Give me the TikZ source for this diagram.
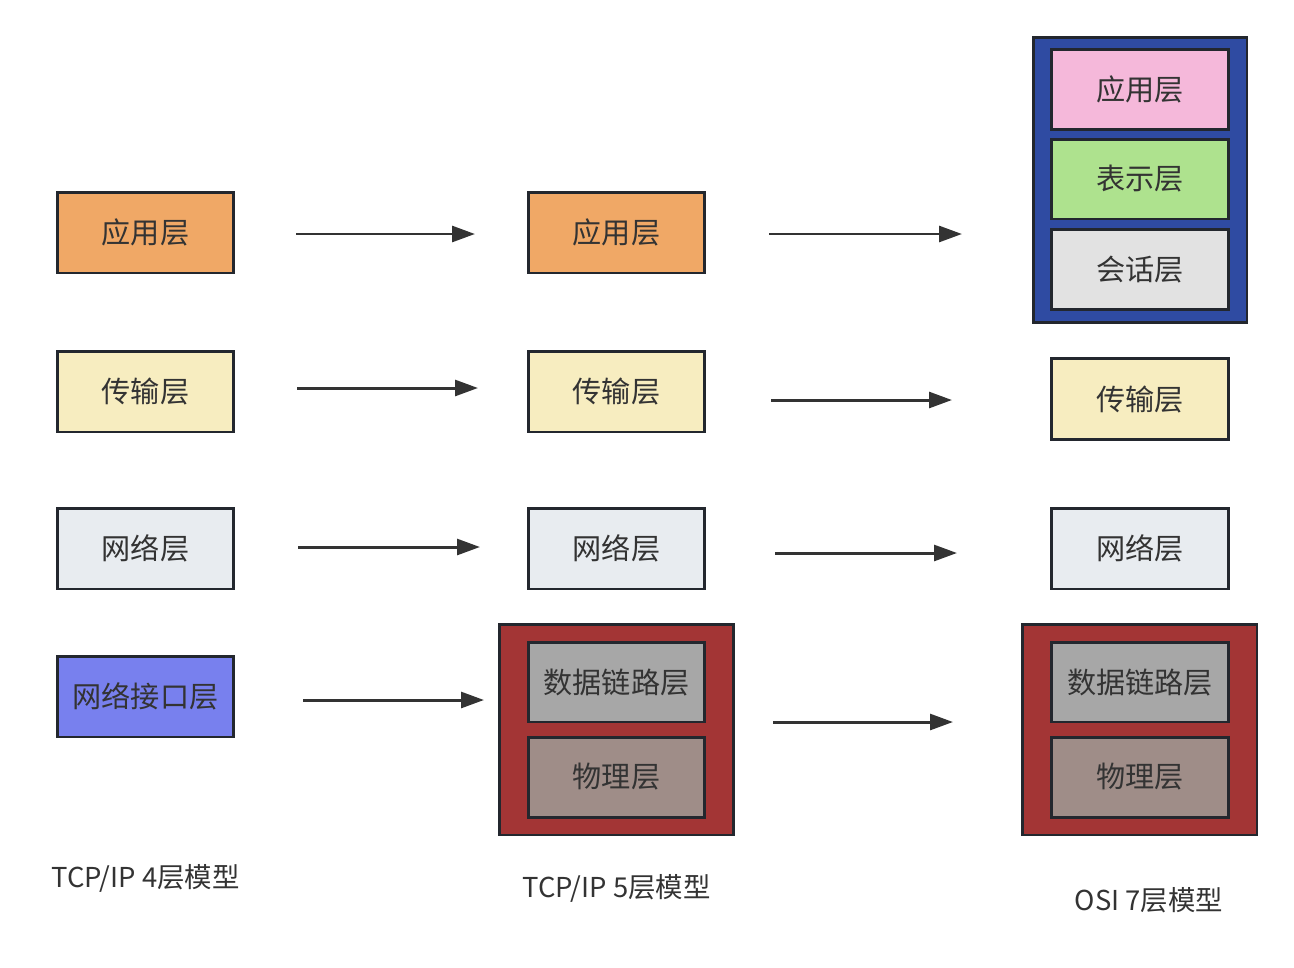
\documentclass[tikz,border=0pt]{standalone}
\usepackage{fontspec}
\setmainfont{Noto Sans CJK SC}
\usetikzlibrary{arrows.meta}

\definecolor{edgegray}{HTML}{23272E}
\definecolor{txtgray}{HTML}{333333}
\definecolor{appcol}{HTML}{F0A866}
\definecolor{transcol}{HTML}{F7EDC0}
\definecolor{netcol}{HTML}{E8ECF0}
\definecolor{ifcol}{HTML}{7880EE}
\definecolor{linkcol}{HTML}{A7A7A7}
\definecolor{physcol}{HTML}{9F8D88}
\definecolor{redgrp}{HTML}{A33535}
\definecolor{bluegrp}{HTML}{2F4BA2}
\definecolor{pinkcol}{HTML}{F5B8DA}
\definecolor{greencol}{HTML}{AEE28E}
\definecolor{sesscol}{HTML}{E2E2E2}

\begin{document}
\begin{tikzpicture}[x=0.02cm,y=-0.02cm,
    every node/.style={text=txtgray,font=\fontsize{16.6}{19}\selectfont},
    layer/.style={draw=edgegray,line width=1.7pt,minimum width=3.54cm,minimum height=1.62cm,inner sep=0pt},
    sublayer/.style={layer,minimum height=1.6cm},
    group/.style={draw=edgegray,line width=1.7pt,inner sep=0pt},
    flow/.style={draw=txtgray,line width=1.7pt,-{Triangle[length=13pt,width=9pt]}},
    caption/.style={font=\fontsize{15.6}{18}\selectfont}]
    \useasboundingbox (0,0) rectangle (1294,967);

    % TCP/IP 4
    \node[layer,fill=appcol] (app4) at (145.5,232.5) {应用层};
    \node[layer,fill=transcol] (trans4) at (145.5,391.5) {传输层};
    \node[layer,fill=netcol] (net4) at (145.5,548.5) {网络层};
    \node[layer,fill=ifcol] (if4) at (145.5,696.5) {网络接口层};
    \node[caption] (cap4) at (145.5,878) {TCP/IP 4层模型};

    % TCP/IP 5
    \node[layer,fill=appcol] (app5) at (616.5,232.5) {应用层};
    \node[layer,fill=transcol] (trans5) at (616.5,391.5) {传输层};
    \node[layer,fill=netcol] (net5) at (616.5,548.5) {网络层};
    \node[group,fill=redgrp,minimum width=4.7cm,minimum height=4.22cm] (grp5) at (616.5,729.5) {};
    \node[sublayer,fill=linkcol] (link5) at (616.5,682) {数据链路层};
    \node[sublayer,fill=physcol] (phys5) at (616.5,777) {物理层};
    \node[caption] (cap5) at (616.5,888) {TCP/IP 5层模型};

    % OSI 7
    \node[group,fill=bluegrp,minimum width=4.28cm,minimum height=5.72cm] (grp7top) at (1140,180) {};
    \node[sublayer,fill=pinkcol] (app7) at (1140,89.5) {应用层};
    \node[sublayer,fill=greencol] (pres7) at (1140,179) {表示层};
    \node[sublayer,fill=sesscol] (sess7) at (1140,269.5) {会话层};
    \node[layer,fill=transcol] (trans7) at (1140,399) {传输层};
    \node[layer,fill=netcol] (net7) at (1140,548.5) {网络层};
    \node[group,fill=redgrp,minimum width=4.7cm,minimum height=4.22cm] (grp7) at (1139.5,729.5) {};
    \node[sublayer,fill=linkcol] (link7) at (1140,682) {数据链路层};
    \node[sublayer,fill=physcol] (phys7) at (1140,777) {物理层};
    \node[caption] (cap7) at (1149,900) {OSI 7层模型};

    \coordinate (a1s) at (296,234); \coordinate (a1e) at (475,234);
    \coordinate (a2s) at (297,388); \coordinate (a2e) at (478,388);
    \coordinate (a3s) at (298,547); \coordinate (a3e) at (480,547);
    \coordinate (a4s) at (303,700); \coordinate (a4e) at (484,700);
    \coordinate (b1s) at (769,234); \coordinate (b1e) at (962,234);
    \coordinate (b2s) at (771,400); \coordinate (b2e) at (952,400);
    \coordinate (b3s) at (775,553); \coordinate (b3e) at (957,553);
    \coordinate (b4s) at (773,722); \coordinate (b4e) at (953,722);

    \draw[flow] (a1s) -- (a1e);
    \draw[flow] (a2s) -- (a2e);
    \draw[flow] (a3s) -- (a3e);
    \draw[flow] (a4s) -- (a4e);
    \draw[flow] (b1s) -- (b1e);
    \draw[flow] (b2s) -- (b2e);
    \draw[flow] (b3s) -- (b3e);
    \draw[flow] (b4s) -- (b4e);
\end{tikzpicture}
\end{document}
